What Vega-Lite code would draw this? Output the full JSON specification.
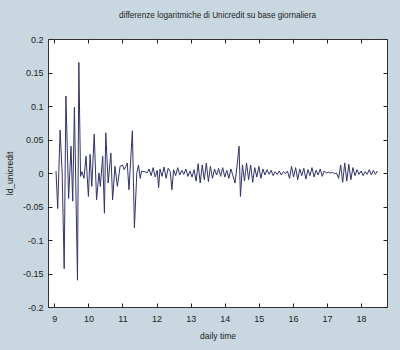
{
  "$schema": "https://vega.github.io/schema/vega-lite/v6.json",
  "autosize": "none",
  "width": 339,
  "height": 268,
  "padding": {"left": 48, "top": 39, "right": 13, "bottom": 43},
  "background": "#c9d8e0",
  "config": {
    "view": {"fill": "white", "stroke": "#333333", "strokeWidth": 1},
    "font": "Liberation Sans",
    "axis": {"labelFont": "Liberation Sans", "titleFont": "Liberation Sans", "labelFontSize": 9, "titleFontSize": 8.5, "titleFontWeight": "normal", "labelColor": "#222", "titleColor": "#222", "domain": false, "grid": false, "tickColor": "#222", "tickSize": -4, "tickWidth": 1}
  },
  "title": {"text": "differenze logaritmiche di Unicredit su base giornaliera", "font": "Liberation Sans", "fontSize": 8.2, "fontWeight": "normal", "color": "#222", "anchor": "middle", "offset": 15},
  "data": {"values": [
    {"t": 9.05, "v": 0.003}, {"t": 9.10, "v": -0.053}, {"t": 9.17, "v": 0.064}, {"t": 9.23, "v": 0.0},
    {"t": 9.29, "v": -0.143}, {"t": 9.34, "v": 0.115}, {"t": 9.42, "v": -0.038}, {"t": 9.49, "v": 0.04},
    {"t": 9.54, "v": -0.042}, {"t": 9.59, "v": 0.098}, {"t": 9.68, "v": -0.16}, {"t": 9.72, "v": 0.165},
    {"t": 9.77, "v": -0.005}, {"t": 9.81, "v": 0.002}, {"t": 9.87, "v": -0.008}, {"t": 9.93, "v": 0.025},
    {"t": 10.00, "v": -0.035}, {"t": 10.05, "v": 0.028}, {"t": 10.10, "v": -0.02}, {"t": 10.17, "v": 0.058},
    {"t": 10.24, "v": -0.04}, {"t": 10.31, "v": 0.0}, {"t": 10.35, "v": -0.02}, {"t": 10.42, "v": 0.025},
    {"t": 10.47, "v": -0.06}, {"t": 10.51, "v": 0.06}, {"t": 10.58, "v": -0.015}, {"t": 10.66, "v": 0.03},
    {"t": 10.71, "v": -0.04}, {"t": 10.78, "v": 0.01}, {"t": 10.85, "v": -0.02}, {"t": 10.93, "v": 0.01},
    {"t": 11.00, "v": 0.012}, {"t": 11.05, "v": 0.005}, {"t": 11.10, "v": 0.01}, {"t": 11.14, "v": 0.015},
    {"t": 11.19, "v": -0.025}, {"t": 11.29, "v": 0.063}, {"t": 11.35, "v": -0.082}, {"t": 11.42, "v": 0.0},
    {"t": 11.47, "v": 0.012}, {"t": 11.52, "v": -0.008}, {"t": 11.56, "v": 0.003}, {"t": 11.60, "v": 0.002},
    {"t": 11.66, "v": 0.002}, {"t": 11.72, "v": 0.0},
    {"t": 11.78, "v": 0.006}, {"t": 11.84, "v": -0.004}, {"t": 11.90, "v": 0.008}, {"t": 11.96, "v": -0.006},
    {"t": 12.02, "v": 0.004}, {"t": 12.06, "v": -0.022}, {"t": 12.10, "v": 0.006}, {"t": 12.16, "v": -0.005},
    {"t": 12.22, "v": 0.009}, {"t": 12.28, "v": -0.008}, {"t": 12.34, "v": 0.007}, {"t": 12.40, "v": 0.002},
    {"t": 12.45, "v": -0.025}, {"t": 12.50, "v": 0.005}, {"t": 12.56, "v": -0.004}, {"t": 12.62, "v": 0.008},
    {"t": 12.68, "v": -0.003}, {"t": 12.74, "v": 0.004}, {"t": 12.80, "v": -0.002}, {"t": 12.86, "v": 0.006},
    {"t": 12.92, "v": -0.005}, {"t": 12.98, "v": 0.003}, {"t": 13.04, "v": -0.006}, {"t": 13.10, "v": 0.005},
    {"t": 13.16, "v": -0.012}, {"t": 13.22, "v": 0.014}, {"t": 13.28, "v": -0.015}, {"t": 13.34, "v": 0.012},
    {"t": 13.40, "v": -0.01}, {"t": 13.46, "v": 0.015}, {"t": 13.52, "v": -0.013}, {"t": 13.58, "v": 0.01},
    {"t": 13.64, "v": -0.008}, {"t": 13.70, "v": 0.006}, {"t": 13.76, "v": -0.003}, {"t": 13.82, "v": 0.007},
    {"t": 13.88, "v": -0.005}, {"t": 13.94, "v": 0.008}, {"t": 14.00, "v": -0.006}, {"t": 14.06, "v": 0.004},
    {"t": 14.12, "v": -0.008}, {"t": 14.18, "v": 0.006}, {"t": 14.24, "v": -0.004}, {"t": 14.30, "v": -0.015},
    {"t": 14.36, "v": 0.01}, {"t": 14.42, "v": 0.04}, {"t": 14.46, "v": -0.035}, {"t": 14.52, "v": 0.012},
    {"t": 14.58, "v": -0.012}, {"t": 14.64, "v": 0.015}, {"t": 14.70, "v": -0.01}, {"t": 14.76, "v": 0.012},
    {"t": 14.82, "v": -0.014}, {"t": 14.88, "v": 0.008}, {"t": 14.94, "v": -0.006}, {"t": 15.00, "v": 0.01},
    {"t": 15.06, "v": -0.008}, {"t": 15.12, "v": 0.006}, {"t": 15.18, "v": -0.003}, {"t": 15.24, "v": 0.005},
    {"t": 15.30, "v": -0.002}, {"t": 15.36, "v": 0.004}, {"t": 15.42, "v": -0.004}, {"t": 15.48, "v": 0.002},
    {"t": 15.54, "v": -0.002}, {"t": 15.60, "v": 0.003}, {"t": 15.66, "v": -0.003}, {"t": 15.72, "v": 0.002},
    {"t": 15.78, "v": -0.001}, {"t": 15.84, "v": 0.003}, {"t": 15.90, "v": -0.008}, {"t": 15.96, "v": 0.01},
    {"t": 16.02, "v": -0.006}, {"t": 16.08, "v": 0.008}, {"t": 16.14, "v": -0.01}, {"t": 16.20, "v": 0.006},
    {"t": 16.26, "v": -0.004}, {"t": 16.32, "v": 0.007}, {"t": 16.38, "v": -0.009}, {"t": 16.44, "v": 0.005},
    {"t": 16.50, "v": -0.004}, {"t": 16.56, "v": 0.008}, {"t": 16.62, "v": -0.006}, {"t": 16.68, "v": 0.004},
    {"t": 16.74, "v": -0.003}, {"t": 16.80, "v": 0.006}, {"t": 16.86, "v": -0.005}, {"t": 16.92, "v": 0.003},
    {"t": 16.98, "v": 0.0}, {"t": 17.04, "v": 0.001}, {"t": 17.10, "v": 0.0}, {"t": 17.16, "v": 0.001},
    {"t": 17.22, "v": -0.001}, {"t": 17.28, "v": 0.0}, {"t": 17.34, "v": -0.008}, {"t": 17.40, "v": 0.012},
    {"t": 17.46, "v": -0.014}, {"t": 17.52, "v": 0.015}, {"t": 17.58, "v": -0.012}, {"t": 17.64, "v": 0.013},
    {"t": 17.70, "v": -0.01}, {"t": 17.76, "v": 0.008}, {"t": 17.82, "v": -0.004}, {"t": 17.88, "v": 0.005},
    {"t": 17.94, "v": -0.002}, {"t": 18.00, "v": 0.003}, {"t": 18.06, "v": -0.004}, {"t": 18.12, "v": 0.002},
    {"t": 18.18, "v": -0.002}, {"t": 18.24, "v": 0.005}, {"t": 18.30, "v": -0.003}, {"t": 18.36, "v": 0.004},
    {"t": 18.42, "v": -0.002}, {"t": 18.48, "v": 0.003}
  ]},
  "layer": [
    {
      "mark": {"type": "line", "color": "#33336b", "strokeWidth": 1, "clip": true},
      "encoding": {
        "x": {"field": "t", "type": "quantitative", "scale": {"domain": [8.815, 18.76], "nice": false, "zero": false},
              "axis": {"orient": "bottom", "values": [9,10,11,12,13,14,15,16,17,18], "title": "daily time", "labelPadding": 11, "titlePadding": 8}},
        "y": {"field": "v", "type": "quantitative", "scale": {"domain": [-0.2, 0.2], "nice": false, "zero": false},
              "axis": {"orient": "left", "values": [-0.2,-0.15,-0.1,-0.05,0,0.05,0.1,0.15,0.2], "labelExpr": "'' + datum.value", "title": "ld_unicredit", "labelPadding": 9, "titlePadding": 8}}
      }
    },
    {
      "mark": {"type": "line", "opacity": 0},
      "encoding": {
        "x": {"field": "t", "type": "quantitative", "scale": {"domain": [8.815, 18.76], "nice": false, "zero": false},
              "axis": {"orient": "top", "values": [9,10,11,12,13,14,15,16,17,18], "labels": false, "title": null}},
        "y": {"field": "v", "type": "quantitative", "scale": {"domain": [-0.2, 0.2], "nice": false, "zero": false},
              "axis": {"orient": "right", "values": [-0.2,-0.15,-0.1,-0.05,0,0.05,0.1,0.15,0.2], "labels": false, "title": null}}
      }
    }
  ],
  "resolve": {"axis": {"x": "independent", "y": "independent"}}
}
